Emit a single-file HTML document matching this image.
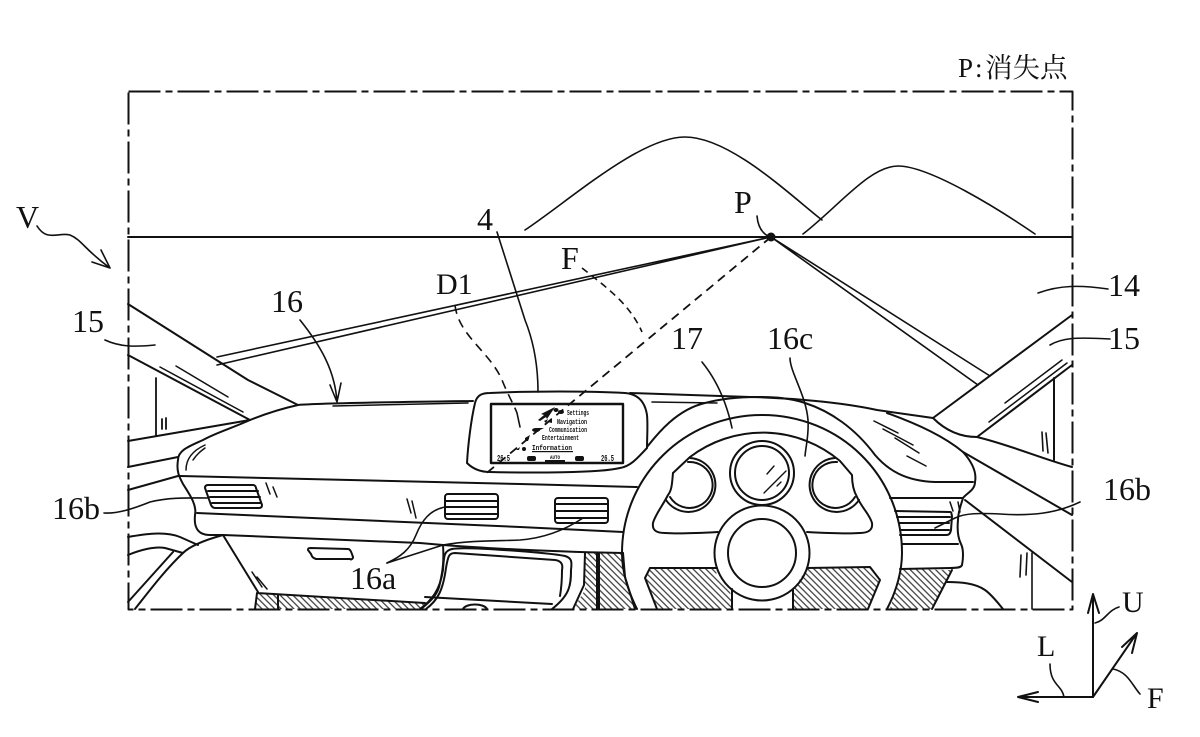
<!DOCTYPE html>
<html><head><meta charset="utf-8"><style>
html,body{margin:0;padding:0;background:#fff}
svg{display:block}
text{font-family:"Liberation Serif","Noto Serif CJK SC",serif;font-size:32px;fill:#111}
.s{font-family:"Liberation Mono",monospace;font-size:7px;font-weight:bold}
</style></head><body>
<svg width="1200" height="737" viewBox="0 0 1200 737" xmlns="http://www.w3.org/2000/svg">
<defs>
<pattern id="h" width="4.500" height="4.500" patternUnits="userSpaceOnUse" patternTransform="rotate(45)">
<line x1="0" y1="2.250" x2="4.500" y2="2.250" stroke="#222" stroke-width="1.100"/>
</pattern>
</defs>
<g fill="url(#h)" stroke="none">
<path d="M257 593L277 595V609H255Z"/>
<path d="M279 595L425 603L421 609H279Z"/>
<path d="M585 553H597V609H573L585 590Z"/>
<path d="M599 553H623L625 577L635 609H599Z"/>
<path d="M650 568H718L716 575L730 590L732 609H657L645 578Z"/>
<path d="M807 568L870 567L880 580L868 609H793V590Z"/>
<path d="M902 569L952 570L932 609H890Z"/>
</g>
<g fill="none" stroke="#111" stroke-width="2" stroke-linecap="round" stroke-linejoin="round">
<!-- frame -->
<rect x="128.500" y="91.500" width="944" height="518" stroke-dasharray="32 5 7 5" stroke-linecap="butt"/>
<path d="M128 237H1072" />
<path d="M525 230C570 200 640 137 685 137C730 137 790 195 822 220" stroke-width="1.600"/>
<path d="M803 234C840 205 870 166 898 166C930 166 1000 210 1035 234" stroke-width="1.600"/>
<!-- perspective lines -->
<path d="M771 237L217 357M771 237L217 365" stroke-width="1.600"/>
<path d="M771 237L990 376M771 237L978 385" stroke-width="1.600"/>
<path d="M771 237L483 476" stroke-dasharray="9 6" stroke-linecap="butt" stroke-width="1.800"/>
<!-- left pillar -->
<path d="M128 304L248 380L298 405"/>
<path d="M128 355L250 420"/>
<path d="M160 367L243 412M176 366L228 397" stroke-width="1.500"/>
<path d="M156 378V436M162 419V429M166 418V429" stroke-width="1.800"/>
<path d="M128 441L250 420M128 467L178 457M128 490L178 476"/>
<!-- dash left outline -->
<path d="M298 405C280 409 265 414 250 420C235 427 215 433 203 440C190 446 178 450 178 460C176 472 180 478 183 484C190 495 197 505 195 515C194 525 196 535 210 535L223 535"/>
<path d="M298 405C320 403 400 402 473 401"/>
<path d="M333 406L468 403" stroke-width="1.500"/>
<path d="M186 470C186 458 194 450 205 445M193 460C197 454 201 451 205 448" stroke-width="1.500"/>
<!-- display -->
<path d="M467 463C468 445 471 420 475 403C477 395 482 393 490 393C530 391 590 391 625 393C638 394 645 402 647 415C648 425 647 438 647 448C640 455 632 466 620 468C600 473 530 473 490 472C480 472 472 468 467 463Z"/>
<rect x="491" y="404" width="132" height="59" stroke-width="2.400"/>
<path d="M630 393L750 397C790 398 840 402 877 410L933 418"/>
<path d="M652 402L717 403" stroke-width="1.500"/>
<!-- right pillar -->
<path d="M933 418L1072 315M977 437L1072 365"/>
<path d="M933 418C945 430 960 437 977 437"/>
<path d="M1005 403L1062 360M989 422L1067 363" stroke-width="1.500"/>
<path d="M1054 378V460"/>
<path d="M977 437C1010 445 1040 458 1072 467"/>
<path d="M1042 432L1043 451M1046 433L1048 453" stroke-width="1.600"/>
<!-- dash right -->
<path d="M887 413C920 425 945 437 963 452C972 462 977 472 975 482C975 490 967 493 963 498C961 505 958 512 958 520C957 530 958 538 961 544C964 550 963 560 962 565C961 568 955 568 950 568L900 569"/>
<path d="M963 452L1072 515M965 500L1072 582"/>
<path d="M1032 553V609M1020 577L1021 555M1026 575L1027 553" stroke-width="1.600"/>
<path d="M947 582C960 582 975 583 985 590C992 595 998 603 1003 609"/>
<path d="M952 570L932 609"/>
<path d="M890 498H963M902 544H958"/>
<path d="M895 511L950 512C952 512 951 513 952 516L951 530C950 535 948 535 945 535L900 535M897 517H950M899 523H949M900 530H949"/>
<path d="M950 502L953 511M958 502L960 512" stroke-width="1.500"/>
<!-- visor arc -->
<path d="M647 447C655 437 675 410 705 403C720 399 740 397 757 397C775 397 790 398 805 403C830 411 855 428 875 455C888 470 905 481 935 482L973 482"/>
<!-- wheel -->
<path d="M637 609C625 585 622 567 622 553C622 476 685 415 762 415C840 415 902 476 902 553C902 570 897 590 887 609"/>
<path d="M673 473L690 457A120 120 0 0 1 840 461L852 475C852 483 853 490 857 497C862 508 870 515 872 523C873 530 868 533 860 533C845 534 825 533 807 532"/>
<path d="M673 473C672 483 672 490 668 495C663 505 655 515 653 523C652 530 656 533 665 533C680 534 700 533 718 532"/>
<circle cx="762" cy="473" r="32"/><circle cx="762" cy="473" r="27"/>
<path d="M690 458A27 27 0 1 1 666 500"/><path d="M688 462A23 23 0 1 1 670 497"/>
<path d="M835 458A27 27 0 1 0 859 500"/><path d="M837 462A23 23 0 1 0 855 497"/>
<circle cx="762" cy="553" r="47.500"/><circle cx="762" cy="553" r="34"/>
<path d="M732 589V609M793 590V609"/>
<path d="M650 568H717M807 568L870 567L880 580L868 609M650 568L645 578L657 609"/>
<path d="M767 474L774 466M764 493L786 471M777 486L781 482" stroke-width="1.400"/>
<path d="M874 421L898 433M883 429L913 445M895 438L919 453M907 456L926 466" stroke-width="1.500"/>
<!-- center band -->
<path d="M180 476L520 484L637 487"/>
<path d="M197 513L520 527L623 532"/>
<path d="M223 535L420 543L443 545C480 548 560 552 623 553"/>
<rect x="445" y="494" width="53" height="25" rx="3"/>
<path d="M446 501H497M446 507H497M446 514H497"/>
<rect x="555" y="498" width="53" height="25" rx="3"/>
<path d="M556 504H607M556 511H607M556 518H607"/>
<path d="M208 485H253C255 485 256 487 256 488L262 505C262 507 261 508 259 508H215C213 508 212 507 211 505L205 488C205 486 206 485 208 485ZM208 491H258M210 497H260M212 503H261"/>
<path d="M266 483L270 494M273 487L277 497M407 499L411 513M412 501L416 518" stroke-width="1.500"/>
<path d="M311 548L348 549C350 549 351 551 353 557C353 559 351 560 350 559L316 559C313 558 312 557 311 554L308 550C308 548 309 548 311 548Z"/>
<!-- lower left -->
<path d="M223 535L258 592"/>
<path d="M128 537C145 534 165 531 180 537L198 545"/>
<path d="M223 535C205 540 190 546 183 553C165 570 150 590 135 609"/>
<path d="M128 555C140 550 155 546 165 548L183 553"/>
<path d="M128 602L173 552"/>
<path d="M252 572L262 587M257 577L267 589" stroke-width="1.500"/>
<path d="M257 593L425 603M425 597L552 604M278 595V609M257 593L255 609"/>
<path d="M463 609C466 603 484 603 487 609"/>
<!-- console -->
<path d="M443 545C444 560 443 570 440 583C438 596 428 603 421 609"/>
<path d="M420 609C432 600 440 590 443 570C444 555 444 551 452 549C465 546 550 553 565 556C572 558 572 562 571 570C571 585 570 595 552 609"/>
<path d="M426 609C438 600 443 590 446 568C448 556 449 553 455 553L555 560C562 561 563 565 562 570C562 580 561 590 560 596"/>
<path d="M597 553V609M599 553V609"/>
<path d="M585 553L584 585L573 609"/>
<path d="M623 553L625 577L635 609"/>
<!-- leaders -->
<path d="M104 513C118 514 135 508 150 502C170 497 190 498 208 498" stroke-width="1.600"/>
<path d="M387 563C400 557 410 550 416 535C422 520 430 510 445 507" stroke-width="1.600"/>
<path d="M387 563L443 545C470 540 500 541 520 540C545 538 565 530 583 518" stroke-width="1.600"/>
<path d="M702 362C715 378 726 400 732 428" stroke-width="1.600"/>
<path d="M790 358C790 372 806 395 808 420C809 435 806 445 805 456" stroke-width="1.600"/>
<path d="M935 528L955 518C965 513 980 513 1000 514C1030 516 1055 514 1080 502" stroke-width="1.600"/>
<path d="M497 232L525 320C535 345 538 370 538 392" stroke-width="1.600"/>
<path d="M300 320C320 345 335 370 337 402M330 385L337 402L341 383" stroke-width="1.600"/>
<path d="M37 226C47 242 58 232 70 235C82 240 85 250 110 268M92 262L110 268L101 250" stroke-width="1.600"/>
<path d="M105 340C120 347 135 347 155 345" stroke-width="1.600"/>
<path d="M1050 345C1062 338 1075 337 1110 339" stroke-width="1.600"/>
<path d="M1038 293C1060 285 1080 285 1108 289" stroke-width="1.600"/>
<path d="M455 305C458 335 490 352 502 380C508 395 514 405 517 413" stroke-width="1.600" stroke-dasharray="9 6" stroke-linecap="butt"/>
<path d="M517 413L520 427" stroke-width="1.600"/>
<path d="M582 268C610 290 630 305 642 332" stroke-width="1.600" stroke-dasharray="7 5" stroke-linecap="butt"/>
<path d="M757 216C758 228 763 234 770 237" stroke-width="1.600"/>
<!-- axes -->
<path d="M1093 697V594M1088 613L1093 594L1099 613"/>
<path d="M1093 697H1018M1038 692L1018 697L1038 702"/>
<path d="M1093 697L1137 633M1122 647L1137 633L1132 653"/>
<path d="M1095 623C1105 621 1108 610 1119 607" stroke-width="1.600"/>
<path d="M1050 664C1050 685 1062 685 1064 697" stroke-width="1.600"/>
<path d="M1113 669C1128 672 1132 685 1140 694" stroke-width="1.600"/>
</g>
<circle cx="771" cy="237" r="4.500" fill="#111"/>
<!-- screen content -->
<g fill="#111" stroke="none">
<path d="M555 407L541 414L544 415L538 420L540 421L546 417L547 419Z"/>
<ellipse cx="556" cy="410" rx="2.500" ry="2"/><ellipse cx="561" cy="412" rx="3" ry="2"/>
<path d="M544 421L548 419L546 423ZM548 422L552 418L552 423Z"/>
<ellipse cx="536" cy="430" rx="4" ry="2"/><path d="M537 428L544 428L538 431Z"/>
<path d="M525 438L530 435L528 441L525 441Z"/>
<path d="M516 450L520 447L519 450Z"/><circle cx="524" cy="449" r="2"/>
<rect x="527" y="456" width="9" height="5" rx="2"/><rect x="575" y="456" width="9" height="5" rx="2"/>
<rect x="545" y="460" width="20" height="2"/>
<rect x="532" y="451" width="41" height="1.200"/>
</g>
<text class="s" x="567" y="415" textLength="22" lengthAdjust="spacingAndGlyphs">Settings</text>
<text class="s" x="557" y="424" textLength="30" lengthAdjust="spacingAndGlyphs">Navigation</text>
<text class="s" x="549" y="432" textLength="38" lengthAdjust="spacingAndGlyphs">Communication</text>
<text class="s" x="542" y="440" textLength="37" lengthAdjust="spacingAndGlyphs">Entertainment</text>
<text class="s" x="532" y="450" textLength="40" lengthAdjust="spacingAndGlyphs">Information</text>
<text class="s" x="497" y="461" textLength="13" lengthAdjust="spacingAndGlyphs" style="font-size:9px">26.5</text>
<text class="s" x="601" y="461" textLength="13" lengthAdjust="spacingAndGlyphs" style="font-size:9px">26.5</text>
<text class="s" x="550" y="459" textLength="10" lengthAdjust="spacingAndGlyphs" style="font-size:5px">AUTO</text>
<!-- labels -->
<text x="958" y="77" style="font-size:27px">P</text>
<text x="975" y="77" style="font-size:27px">:</text>
<text x="985" y="77" style="font-size:27.500px;font-family:'Noto Serif CJK SC',serif">消失点</text>
<text x="16" y="228">V</text>
<text x="477" y="230">4</text>
<text x="734" y="213">P</text>
<text x="561" y="269">F</text>
<text x="436" y="294" style="font-size:30px">D1</text>
<text x="271" y="312">16</text>
<text x="72" y="332">15</text>
<text x="1108" y="296">14</text>
<text x="1108" y="349">15</text>
<text x="671" y="349">17</text>
<text x="767" y="349">16c</text>
<text x="52" y="519">16b</text>
<text x="1103" y="500">16b</text>
<text x="350" y="589">16a</text>
<text x="1122" y="612" style="font-size:30px">U</text>
<text x="1037" y="656" style="font-size:30px">L</text>
<text x="1147" y="708" style="font-size:30px">F</text>
</svg>
</body></html>
